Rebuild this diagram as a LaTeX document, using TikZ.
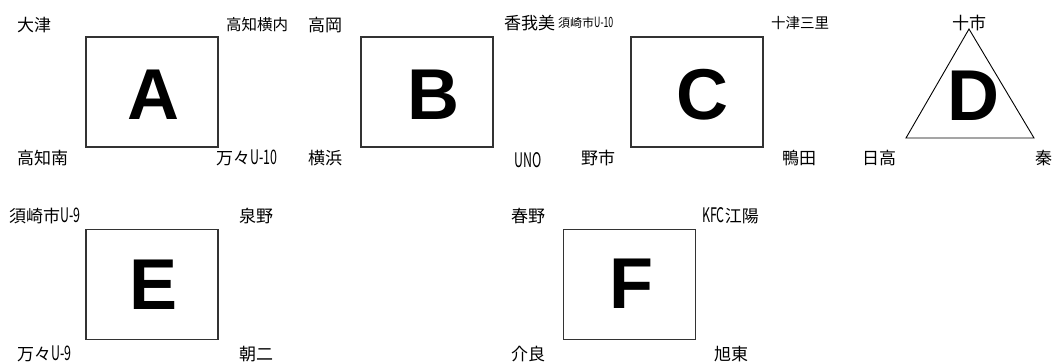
\documentclass[tikz,border=0pt]{standalone}
\usepackage{fontspec}
\setmainfont{Liberation Sans}
\newfontfamily\jpfont{Noto Sans CJK JP}
\newfontfamily\halfwidth[Scale=1.18,FakeStretch=0.62]{Noto Sans CJK JP}
\newfontfamily\letterfont{Liberation Sans}
\usetikzlibrary{positioning}

\begin{document}
\begin{tikzpicture}[x=1pt,y=-1pt,
    zone/.style={draw=black!80,line width=1.4pt,minimum width=132pt,minimum height=110pt,inner sep=0pt},
    zoneletter/.style={inner sep=0pt,font=\letterfont\bfseries\fontsize{72}{72}\selectfont},
    station/.style={anchor=west,inner sep=0pt,font=\jpfont\fontsize{17}{17}\selectfont},
    smallstation/.style={station,font=\jpfont\fontsize{12}{12}\selectfont}]
    \useasboundingbox (0,0) rectangle (1058,363);
    % zones
    \node[zone] (boxA) at (152,92) {};
    \node[zone] (boxB) at (427,92) {};
    \node[zone] (boxC) at (697,92) {};
    \node[zone] (boxE) at (152,284.5) {};
    \node[zone] (boxF) at (629.5,284.5) {};
    \coordinate (triTop) at (969,29);
    \coordinate (triLeft) at (906,138);
    \coordinate (triRight) at (1034,138);
    \draw[line width=0.9pt] (triTop)--(triLeft)--(triRight)--cycle;
    \node[zoneletter] (letA) at (153,95) {A};
    \node[zoneletter] (letB) at (433,95) {B};
    \node[zoneletter] (letC) at (702,95) {C};
    \node[zoneletter] (letD) at (973,96) {D};
    \node[zoneletter] (letE) at (154,285) {E};
    \node[zoneletter] (letF) at (631,284) {F};
    % A
    \node[station] (otsu) at (17,25) {大津};
    \node[station,font=\jpfont\fontsize{15.5}{15.5}\selectfont] (kochiyokouchi) at (226,25) {高知横内};
    \node[station] (kochiminami) at (17,158) {高知南};
    \node[station] (mamaU10) at (216,158) {万々{\halfwidth U-10}};
    % B
    \node[station] (takaoka) at (308,25) {高岡};
    \node[station] (kagami) at (504,23) {香我美};
    \node[smallstation] (susakiU10) at (558,23) {須崎市{\halfwidth U-10}};
    \node[station] (yokohama) at (308,158) {横浜};
    \node[station] (uno) at (514,160) {\halfwidth UNO};
    % C
    \node[station,font=\jpfont\fontsize{14.5}{14.5}\selectfont] (tozusanri) at (771,23) {十津三里};
    \node[station] (noichi) at (581,158) {野市};
    \node[station] (kamoda) at (782,158) {鴨田};
    % D
    \node[station,anchor=center] (toichi) at (969,23) {十市};
    \node[station] (hidaka) at (862,158) {日高};
    \node[station] (hata) at (1035,158) {秦};
    % E
    \node[station] (susakiU9) at (9,216) {須崎市{\halfwidth U-9}};
    \node[station] (izumino) at (239,216) {泉野};
    \node[station] (mamaU9) at (17,354) {万々{\halfwidth U-9}};
    \node[station] (asani) at (239,354) {朝二};
    % F
    \node[station] (haruno) at (511,216) {春野};
    \node[station] (kfckoyo) at (702,216) {{\halfwidth KFC}江陽};
    \node[station] (kera) at (511,354) {介良};
    \node[station] (kyokuto) at (714,354) {旭東};
\end{tikzpicture}
\end{document}
